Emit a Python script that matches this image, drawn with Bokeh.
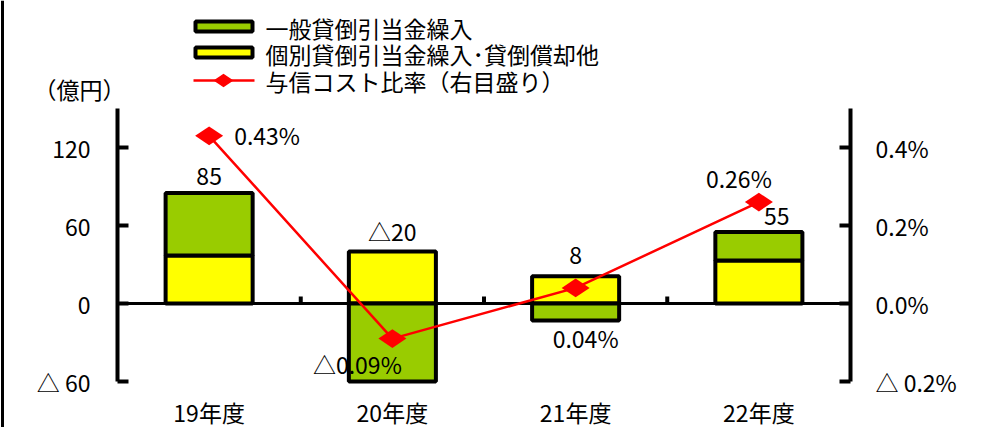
import math
from bokeh.plotting import figure
from bokeh.models import (Range1d, LinearAxis, FixedTicker, CustomJSTickFormatter, ColumnDataSource)
from bokeh.core.properties import value
from bokeh.embed import file_html
from bokeh.resources import INLINE

# ---------------- data ----------------
years = ["19年度", "20年度", "21年度", "22年度"]
general = [48, -60, -13, 22]          # 一般貸倒引当金繰入 (億円)
specific = [37, 40, 21, 33]           # 個別貸倒引当金繰入･貸倒償却他 (億円)
ratio = [0.43, -0.09, 0.04, 0.26]     # 与信コスト比率 (%)
left_ticks = [-60, 0, 60, 120]
right_ticks = [-0.2, 0.0, 0.2, 0.4]
series_names = ["一般貸倒引当金繰入", "個別貸倒引当金繰入･貸倒償却他", "与信コスト比率（右目盛り）"]
unit_label = "（億円）"

# ---------------- layout ----------------
FONT = "Noto Sans CJK JP"
FS = "23px"
W, H = 994, 427
AX_L, AX_R, AX_B, AX_T = 117, 850, 381, 108    # pixel positions of the axes
Y_MIN, Y_AXIS_MAX = -60, 150
PCT_SCALE = 300.0                              # 60 億円 <-> 0.2 %
N = len(years)
PX_PER_X = (AX_R - AX_L) / N
PX_PER_Y = (AX_B - AX_T) / (Y_AXIS_MAX - Y_MIN)


def px_x(px):
    return (px - AX_L) / PX_PER_X


def px_y(py):
    return Y_MIN + (AX_B - py) / PX_PER_Y


def tri(v, fmt, sep=""):
    return ("△" + sep + fmt.format(abs(v))) if v < 0 else fmt.format(v)


xs = [i + 0.5 for i in range(N)]

p = figure(width=W, height=H, x_range=Range1d(px_x(0), px_x(W)), y_range=Range1d(px_y(H), px_y(0)),
           output_backend="svg", toolbar_location=None, x_axis_type=None, y_axis_type=None,
           min_border_left=0, min_border_right=0, min_border_top=0, min_border_bottom=0)
p.extra_y_ranges = {"pct": Range1d(px_y(H) / PCT_SCALE, px_y(0) / PCT_SCALE)}
p.outline_line_color = None
p.background_fill_color = "white"
p.border_fill_color = "white"

# axes (drawn at fixed positions inside the frame)
ly = LinearAxis(ticker=FixedTicker(ticks=left_ticks),
                formatter=CustomJSTickFormatter(code="return tick < 0 ? '△ ' + Math.abs(tick) : String(tick)"),
                fixed_location=0, bounds=(Y_MIN, Y_AXIS_MAX), axis_line_width=4,
                major_tick_in=11, major_tick_out=0, major_tick_line_width=4,
                minor_tick_line_color=None, major_label_standoff=27,
                major_label_text_font=FONT, major_label_text_font_size=FS,
                major_label_text_color="black")
p.add_layout(ly, "left")

ry = LinearAxis(y_range_name="pct", ticker=FixedTicker(ticks=right_ticks),
                formatter=CustomJSTickFormatter(code="return tick < 0 ? '△ ' + Math.abs(tick).toFixed(1) + '%' : tick.toFixed(1) + '%'"),
                fixed_location=N, bounds=(Y_MIN / PCT_SCALE, Y_AXIS_MAX / PCT_SCALE), axis_line_width=4,
                major_tick_in=11, major_tick_out=0, major_tick_line_width=4,
                minor_tick_line_color=None, major_label_standoff=25,
                major_label_text_font=FONT, major_label_text_font_size=FS,
                major_label_text_color="black")
p.add_layout(ry, "right")

bx = LinearAxis(ticker=FixedTicker(ticks=xs),
                formatter=CustomJSTickFormatter(args=dict(labels=years), code="return labels[Math.floor(tick)]"),
                fixed_location=Y_MIN, axis_line_color=None, major_tick_line_color=None,
                minor_tick_line_color=None, major_tick_out=0, major_tick_in=0, major_label_standoff=13,
                major_label_text_font=FONT, major_label_text_font_size=FS,
                major_label_text_color="black")
p.add_layout(bx, "below")

# left border of the original picture
p.vspan(x=[px_x(1.5)], line_color="black", line_width=3)

# stacked bars
pos_base = [0.0] * N
neg_base = [0.0] * N
for vals, color in [(specific, "#FFFF00"), (general, "#99CC00")]:
    bottoms, tops = [], []
    for i, v in enumerate(vals):
        if v >= 0:
            bottoms.append(pos_base[i]); tops.append(pos_base[i] + v); pos_base[i] += v
        else:
            bottoms.append(neg_base[i]); tops.append(neg_base[i] + v); neg_base[i] += v
    p.vbar(x=xs, width=0.475, bottom=bottoms, top=tops, fill_color=color,
           line_color="black", line_width=4)

# zero line and category separators
p.segment(x0=[0], x1=[N], y0=[0], y1=[0], line_color="black", line_width=3)
p.segment(x0=list(range(1, N)), x1=list(range(1, N)), y0=0, y1=7 / PX_PER_Y,
          line_color="black", line_width=4)

# bar total labels
totals = [specific[i] + general[i] for i in range(N)]
tot_src = ColumnDataSource(dict(x=xs, y=pos_base, t=[tri(v, "{:d}") for v in totals],
                                dx=[0, 0, 0, 18], dy=[-17, -21, -21, -16]))
p.text(x="x", y="y", text="t", source=tot_src, x_offset="dx", y_offset="dy",
       text_align="center", text_baseline="middle", text_font=value(FONT),
       text_font_size=FS, text_color="black")

# ratio line
p.line(xs, ratio, y_range_name="pct", line_color="#FF0000", line_width=2.5)
p.scatter(xs, ratio, y_range_name="pct", marker="diamond", size=28, angle=math.pi / 2,
          fill_color="#FF0000", line_color=None)
rat_src = ColumnDataSource(dict(x=xs, y=ratio, t=[tri(v, "{:.2f}%") for v in ratio],
                                dx=[25, -35, 10, -20], dy=[-1, 25, 50, -24],
                                al=["left", "center", "center", "center"]))
p.text(x="x", y="y", text="t", source=rat_src, y_range_name="pct", x_offset="dx", y_offset="dy",
       text_align="al", text_baseline="middle", text_font=value(FONT),
       text_font_size=FS, text_color="black")

# legend (drawn by hand, as in the original)
leg_y = [px_y(26), px_y(52), px_y(80)]
sw_x = px_x(223.5)
p.rect(x=[sw_x, sw_x], y=leg_y[:2], width=57, height=10, width_units="screen", height_units="screen",
       fill_color=["#99CC00", "#FFFF00"], line_color="black", line_width=4)
p.segment(x0=[px_x(193)], x1=[px_x(254)], y0=[leg_y[2]], y1=[leg_y[2]], line_color="#FF0000", line_width=2.5)
p.scatter(x=[px_x(223)], y=[leg_y[2]], marker="diamond", size=20, angle=math.pi / 2,
          fill_color="#FF0000", line_color=None)
p.text(x=[px_x(265)] * 3, y=[px_y(27), px_y(53), px_y(80)], text=series_names,
       text_align="left", text_baseline="middle", text_font=value(FONT),
       text_font_size=FS, text_color="black")

# unit label
p.text(x=[px_x(33)], y=[px_y(88)], text=[unit_label], text_align="left", text_baseline="middle",
       text_font=value(FONT), text_font_size=FS, text_color="black")

open("out.html", "w").write(file_html(p, INLINE))
